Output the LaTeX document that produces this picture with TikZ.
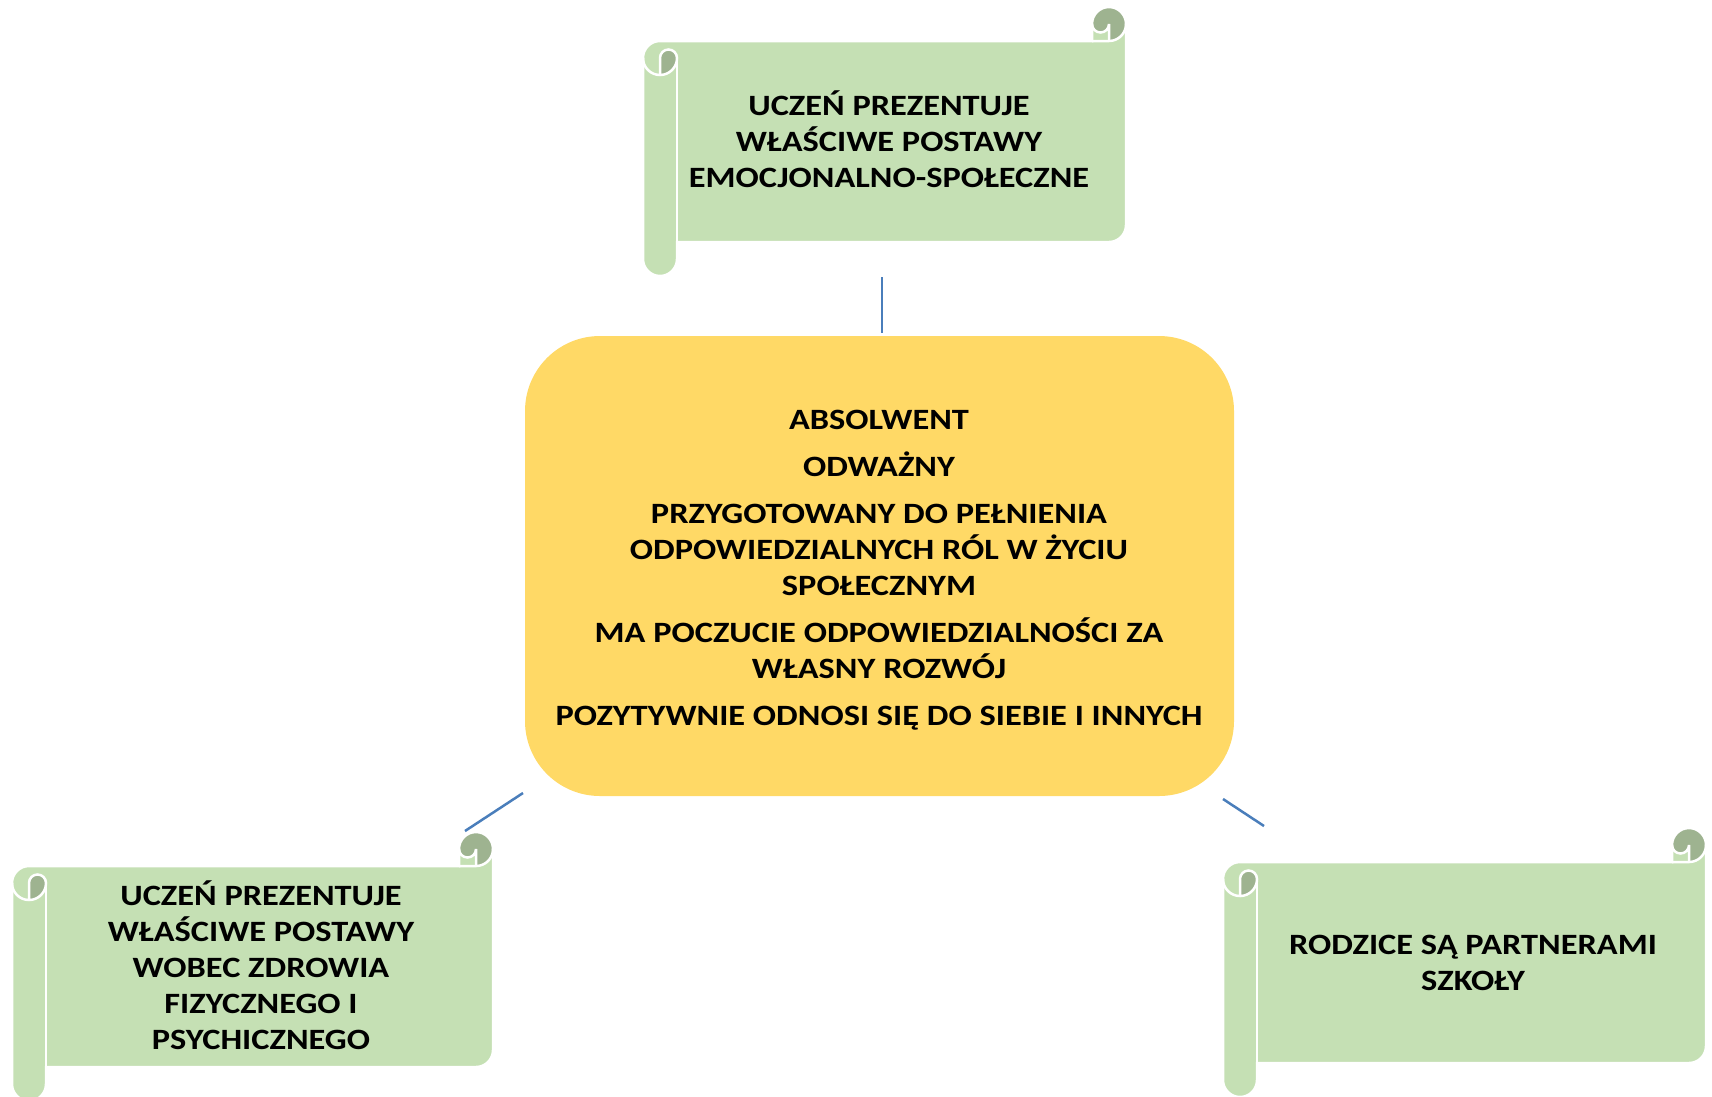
\documentclass[tikz,border=0pt]{standalone}
\usepackage{fontspec}
\newfontfamily\calibri{Carlito}
\definecolor{scrollgreen}{HTML}{C5E0B4}
\definecolor{scrolldark}{HTML}{9EB390}
\definecolor{boxgold}{HTML}{FFD966}
\definecolor{linkblue}{HTML}{4A7EBB}
\tikzset{
  scrolllight/.style={fill=scrollgreen},
  curl/.style={fill=scrolldark},
  rim/.style={draw=white,line width=2.5pt},
  scrolltext/.style={font=\calibri\bfseries\fontsize{29.5}{36}\selectfont,align=center,inner sep=0pt,xscale=1.165,transform shape},
  centerbox/.style={fill=boxgold,rounded corners=75pt,minimum width=709pt,minimum height=460pt,inner sep=0pt},
  link/.style={draw=linkblue,line width=2.5pt},
}
\newcommand\firstln{\rule{0pt}{26pt}}
\newcommand\lastln{\rule[-8pt]{0pt}{8pt}}
% #1 = left x, #2 = top y, #3 = width (height is 269)
\newcommand\drawscroll[3]{%
\begin{scope}[shift={(#1,-#2)},yscale=-1]
\def\W{#3}
\fill[scrolllight] (\W,17) arc[start angle=0,delta angle=90,radius=17] -- (17,34)
  arc[start angle=270,delta angle=-90,radius=17] -- (0,252)
  arc[start angle=180,delta angle=-180,radius=17] -- (34,235) -- (\W-17,235)
  arc[start angle=90,delta angle=-90,radius=17] -- cycle;
\fill[scrolllight] (\W-34,17) rectangle (\W-17,34);
% curls
\fill[curl] (17,68) arc[start angle=90,delta angle=-90,radius=17]
  arc[start angle=0,delta angle=-180,radius=8.5] -- cycle;
\fill[curl] (\W-17,34) arc[start angle=90,delta angle=-270,radius=17]
  arc[start angle=180,delta angle=-180,radius=8.5] -- cycle;
% white rims
\draw[rim] (0,51) arc[start angle=180,delta angle=90,radius=17] -- (\W-34,34) -- (\W-34,17)
  arc[start angle=180,delta angle=180,radius=17] -- (\W,218)
  arc[start angle=0,delta angle=90,radius=17] -- (34,235) -- (34,252)
  arc[start angle=0,delta angle=180,radius=17] -- cycle;
\draw[rim] (\W-34,34) -- (\W-17,34) arc[start angle=90,delta angle=-90,radius=17];
\draw[rim] (\W-17,34) -- (\W-17,17) arc[start angle=0,delta angle=180,radius=8.5];
\draw[rim] (17,68) -- (17,51) arc[start angle=180,delta angle=180,radius=8.5]
  arc[start angle=0,delta angle=180,radius=17];
\draw[rim] (34,51) -- (34,235);
\end{scope}}
\begin{document}
\begin{tikzpicture}[x=1pt,y=1pt]
\useasboundingbox (0,0) rectangle (1712,-1096);

\drawscroll{643}{7}{483}
\drawscroll{12}{832}{481}
\drawscroll{1223}{828}{483}

\node[scrolltext] (emo) at (889,-142) {\firstln UCZEŃ PREZENTUJE\\WŁAŚCIWE POSTAWY\\EMOCJONALNO-SPOŁECZNE\lastln};
\node[scrolltext] (zdr) at (261,-968.5) {\firstln UCZEŃ PREZENTUJE\\WŁAŚCIWE POSTAWY\\WOBEC ZDROWIA\\FIZYCZNEGO I\\PSYCHICZNEGO\lastln};
\node[scrolltext] (rodz) at (1473,-963.5) {\firstln RODZICE SĄ PARTNERAMI\\SZKOŁY\lastln};

\node[centerbox] (abs) at (879.5,-566) {};
\node[scrolltext] (abstxt) at (879,-568) {\firstln ABSOLWENT\\[11pt]
  ODWAŻNY\\[11pt]
  PRZYGOTOWANY DO PEŁNIENIA\\ODPOWIEDZIALNYCH RÓL W ŻYCIU\\SPOŁECZNYM\\[11pt]
  MA POCZUCIE ODPOWIEDZIALNOŚCI ZA\\WŁASNY ROZWÓJ\\[11pt]
  POZYTYWNIE ODNOSI SIĘ DO SIEBIE I INNYCH\lastln};

% connectors
\coordinate (emoend) at (882,-277);
\coordinate (abstop) at (882,-333);
\coordinate (zdrend) at (465,-831);
\coordinate (absleft) at (523,-793);
\coordinate (rodzend) at (1264,-826);
\coordinate (absright) at (1223,-799);
\draw[link] (emoend) -- (abstop);
\draw[link] (absleft) -- (zdrend);
\draw[link] (absright) -- (rodzend);
\end{tikzpicture}
\end{document}
